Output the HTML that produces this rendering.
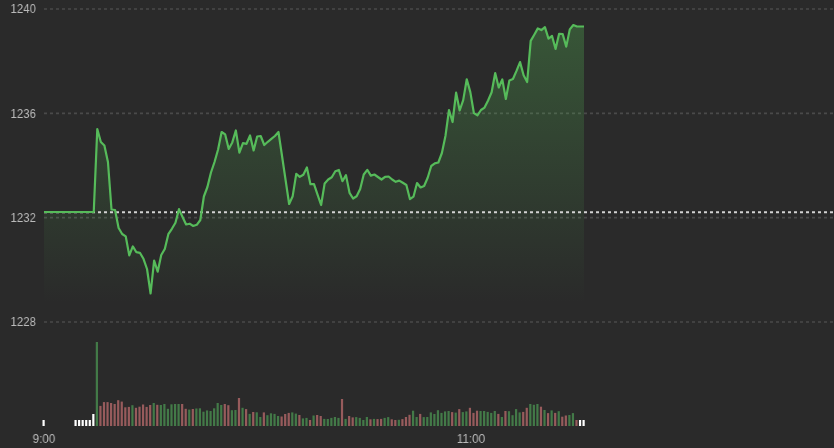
<!DOCTYPE html>
<html><head><meta charset="utf-8"><style>
html,body{margin:0;padding:0;}
body{width:834px;height:448px;background:#2a2a2a;position:relative;overflow:hidden;font-family:"Liberation Sans",sans-serif;}
svg{position:absolute;left:0;top:0;}
.lab{position:absolute;right:798px;font-size:13px;line-height:15px;color:#bababa;transform:scaleX(0.88);transform-origin:right center;white-space:nowrap;will-change:transform;-webkit-font-smoothing:antialiased;}
.tl{position:absolute;top:431px;font-size:13px;line-height:15px;color:#bababa;white-space:nowrap;transform:translateX(-50%) scaleX(0.9);will-change:transform;-webkit-font-smoothing:antialiased;}
</style></head><body>
<svg width="834" height="448" viewBox="0 0 834 448">
<defs><linearGradient id="fg" x1="0" y1="25" x2="0" y2="303" gradientUnits="userSpaceOnUse">
<stop offset="0" stop-color="rgba(90,200,90,0.28)"/><stop offset="1" stop-color="rgba(90,200,90,0.0)"/></linearGradient></defs>
<line x1="44" y1="8.97" x2="834" y2="8.97" stroke="#4a4a4a" stroke-width="1.6" stroke-dasharray="3 3"/><line x1="44" y1="113.4" x2="834" y2="113.4" stroke="#4a4a4a" stroke-width="1.6" stroke-dasharray="3 3"/><line x1="44" y1="217.6" x2="834" y2="217.6" stroke="#4a4a4a" stroke-width="1.6" stroke-dasharray="3 3"/><line x1="44" y1="322" x2="834" y2="322" stroke="#4a4a4a" stroke-width="1.6" stroke-dasharray="3 3"/>
<path d="M44 212 L47.55 212 L51.11 212 L54.66 212 L58.21 212 L61.76 212 L65.32 212 L68.87 212 L72.42 212 L75.97 212 L79.53 212 L83.08 212 L86.63 212 L90.18 212 L93.74 212 L97.29 129 L100.84 142 L104.39 145.5 L107.95 162 L111.5 209.5 L115.05 210 L118.61 228 L122.16 234 L125.71 236.3 L129.26 255.4 L132.82 246.4 L136.37 252.2 L139.92 252.8 L143.47 258.8 L147.03 269 L150.58 293.5 L154.13 260.6 L157.68 271.7 L161.24 255 L164.79 249 L168.34 234.2 L171.89 228.8 L175.45 222.8 L179 209.1 L182.55 217 L186.11 224.5 L189.66 223.7 L193.21 226 L196.76 224.8 L200.32 220 L203.87 196.5 L207.42 187 L210.97 172.5 L214.53 162 L218.08 149.5 L221.63 132 L225.18 134.4 L228.74 149 L232.29 142.4 L235.84 130.5 L239.39 152.6 L242.95 143.2 L246.5 143.8 L250.05 135.5 L253.61 150.5 L257.16 136.5 L260.71 136 L264.26 145 L267.82 141.8 L271.37 138.9 L274.92 136 L278.47 132 L282.03 156 L285.58 180 L289.13 204 L292.68 196.2 L296.24 173.8 L299.79 176.8 L303.34 174.8 L306.89 167.4 L310.45 184.2 L314 184.2 L317.55 194.6 L321.11 205 L324.66 183.4 L328.21 179.5 L331.76 177.3 L335.32 171.2 L338.87 170 L342.42 181.2 L345.97 175.1 L349.53 192.8 L353.08 198.5 L356.63 196.3 L360.18 189 L363.74 174.5 L367.29 169.8 L370.84 175.6 L374.39 174.5 L377.95 177 L381.5 179.5 L385.05 176.8 L388.61 176.5 L392.16 179.5 L395.71 181.8 L399.26 180.6 L402.82 182.8 L406.37 185 L409.92 199.1 L413.47 196.7 L417.03 183 L420.58 187.5 L424.13 186 L427.68 177.8 L431.24 166 L434.79 163.4 L438.34 162.5 L441.89 153 L445.45 136 L449 110 L452.55 122 L456.11 92.6 L459.66 110.5 L463.21 100.1 L466.76 79.3 L470.32 92.1 L473.87 113 L477.42 115.3 L480.97 110 L484.53 107.6 L488.08 100.5 L491.63 92.3 L495.18 73.1 L498.74 87.5 L502.29 79.4 L505.84 99 L509.39 80.4 L512.95 79 L516.5 70.9 L520.05 62.1 L523.61 75.3 L527.16 82 L530.71 40.9 L534.26 34.8 L537.82 28.4 L541.37 30.1 L544.92 27.2 L548.47 38.6 L552.03 36 L555.58 49 L559.13 33.75 L562.68 34.1 L566.24 46.6 L569.79 29.4 L573.34 25 L576.89 26.5 L580.45 26.5 L584 26.5 L584 303 L44 303 Z" fill="url(#fg)"/>
<line x1="44" y1="212.3" x2="834" y2="212.3" stroke="#d2d2d2" stroke-width="2" stroke-dasharray="3 3"/>
<path d="M44 212 L47.55 212 L51.11 212 L54.66 212 L58.21 212 L61.76 212 L65.32 212 L68.87 212 L72.42 212 L75.97 212 L79.53 212 L83.08 212 L86.63 212 L90.18 212 L93.74 212 L97.29 129 L100.84 142 L104.39 145.5 L107.95 162 L111.5 209.5 L115.05 210 L118.61 228 L122.16 234 L125.71 236.3 L129.26 255.4 L132.82 246.4 L136.37 252.2 L139.92 252.8 L143.47 258.8 L147.03 269 L150.58 293.5 L154.13 260.6 L157.68 271.7 L161.24 255 L164.79 249 L168.34 234.2 L171.89 228.8 L175.45 222.8 L179 209.1 L182.55 217 L186.11 224.5 L189.66 223.7 L193.21 226 L196.76 224.8 L200.32 220 L203.87 196.5 L207.42 187 L210.97 172.5 L214.53 162 L218.08 149.5 L221.63 132 L225.18 134.4 L228.74 149 L232.29 142.4 L235.84 130.5 L239.39 152.6 L242.95 143.2 L246.5 143.8 L250.05 135.5 L253.61 150.5 L257.16 136.5 L260.71 136 L264.26 145 L267.82 141.8 L271.37 138.9 L274.92 136 L278.47 132 L282.03 156 L285.58 180 L289.13 204 L292.68 196.2 L296.24 173.8 L299.79 176.8 L303.34 174.8 L306.89 167.4 L310.45 184.2 L314 184.2 L317.55 194.6 L321.11 205 L324.66 183.4 L328.21 179.5 L331.76 177.3 L335.32 171.2 L338.87 170 L342.42 181.2 L345.97 175.1 L349.53 192.8 L353.08 198.5 L356.63 196.3 L360.18 189 L363.74 174.5 L367.29 169.8 L370.84 175.6 L374.39 174.5 L377.95 177 L381.5 179.5 L385.05 176.8 L388.61 176.5 L392.16 179.5 L395.71 181.8 L399.26 180.6 L402.82 182.8 L406.37 185 L409.92 199.1 L413.47 196.7 L417.03 183 L420.58 187.5 L424.13 186 L427.68 177.8 L431.24 166 L434.79 163.4 L438.34 162.5 L441.89 153 L445.45 136 L449 110 L452.55 122 L456.11 92.6 L459.66 110.5 L463.21 100.1 L466.76 79.3 L470.32 92.1 L473.87 113 L477.42 115.3 L480.97 110 L484.53 107.6 L488.08 100.5 L491.63 92.3 L495.18 73.1 L498.74 87.5 L502.29 79.4 L505.84 99 L509.39 80.4 L512.95 79 L516.5 70.9 L520.05 62.1 L523.61 75.3 L527.16 82 L530.71 40.9 L534.26 34.8 L537.82 28.4 L541.37 30.1 L544.92 27.2 L548.47 38.6 L552.03 36 L555.58 49 L559.13 33.75 L562.68 34.1 L566.24 46.6 L569.79 29.4 L573.34 25 L576.89 26.5 L580.45 26.5 L584 26.5" fill="none" stroke="#56bb5a" stroke-width="2.2" stroke-linejoin="round"/>
<rect x="42.5" y="420" width="2.2" height="6" fill="#ffffff"/><rect x="74.47" y="420" width="2.2" height="6" fill="#ffffff"/><rect x="78.03" y="420" width="2.2" height="6" fill="#ffffff"/><rect x="81.58" y="420" width="2.2" height="6" fill="#ffffff"/><rect x="85.13" y="420" width="2.2" height="6" fill="#ffffff"/><rect x="88.68" y="420" width="2.2" height="6" fill="#ffffff"/><rect x="92.24" y="414" width="2.2" height="12" fill="#ffffff"/><rect x="95.79" y="342" width="2.2" height="84" fill="#437a48"/><rect x="99.34" y="405.9" width="2.2" height="20.1" fill="#975b5c"/><rect x="102.89" y="402.1" width="2.2" height="23.9" fill="#975b5c"/><rect x="106.45" y="402.1" width="2.2" height="23.9" fill="#975b5c"/><rect x="110" y="403" width="2.2" height="23" fill="#975b5c"/><rect x="113.55" y="404" width="2.2" height="22" fill="#975b5c"/><rect x="117.11" y="400.2" width="2.2" height="25.8" fill="#975b5c"/><rect x="120.66" y="401.6" width="2.2" height="24.4" fill="#975b5c"/><rect x="124.21" y="407.3" width="2.2" height="18.7" fill="#975b5c"/><rect x="127.76" y="406.9" width="2.2" height="19.1" fill="#975b5c"/><rect x="131.32" y="405.2" width="2.2" height="20.8" fill="#437a48"/><rect x="134.87" y="407.8" width="2.2" height="18.2" fill="#975b5c"/><rect x="138.42" y="406.7" width="2.2" height="19.3" fill="#975b5c"/><rect x="141.97" y="404.5" width="2.2" height="21.5" fill="#975b5c"/><rect x="145.53" y="406.9" width="2.2" height="19.1" fill="#975b5c"/><rect x="149.08" y="405" width="2.2" height="21" fill="#975b5c"/><rect x="152.63" y="403" width="2.2" height="23" fill="#437a48"/><rect x="156.18" y="404.8" width="2.2" height="21.2" fill="#975b5c"/><rect x="159.74" y="405" width="2.2" height="21" fill="#437a48"/><rect x="163.29" y="404" width="2.2" height="22" fill="#437a48"/><rect x="166.84" y="408.8" width="2.2" height="17.2" fill="#437a48"/><rect x="170.39" y="404.3" width="2.2" height="21.7" fill="#437a48"/><rect x="173.95" y="404" width="2.2" height="22" fill="#437a48"/><rect x="177.5" y="404" width="2.2" height="22" fill="#437a48"/><rect x="181.05" y="404" width="2.2" height="22" fill="#975b5c"/><rect x="184.61" y="408.8" width="2.2" height="17.2" fill="#975b5c"/><rect x="188.16" y="409.6" width="2.2" height="16.4" fill="#437a48"/><rect x="191.71" y="409" width="2.2" height="17" fill="#975b5c"/><rect x="195.26" y="408.5" width="2.2" height="17.5" fill="#437a48"/><rect x="198.82" y="408.3" width="2.2" height="17.7" fill="#437a48"/><rect x="202.37" y="411.7" width="2.2" height="14.3" fill="#437a48"/><rect x="205.92" y="410.4" width="2.2" height="15.6" fill="#437a48"/><rect x="209.47" y="411" width="2.2" height="15" fill="#437a48"/><rect x="213.03" y="408.3" width="2.2" height="17.7" fill="#437a48"/><rect x="216.58" y="403" width="2.2" height="23" fill="#437a48"/><rect x="220.13" y="405" width="2.2" height="21" fill="#437a48"/><rect x="223.68" y="404" width="2.2" height="22" fill="#975b5c"/><rect x="227.24" y="405.2" width="2.2" height="20.8" fill="#975b5c"/><rect x="230.79" y="410.2" width="2.2" height="15.8" fill="#437a48"/><rect x="234.34" y="410" width="2.2" height="16" fill="#437a48"/><rect x="237.89" y="398" width="2.2" height="28" fill="#975b5c"/><rect x="241.45" y="407.8" width="2.2" height="18.2" fill="#437a48"/><rect x="245" y="409.1" width="2.2" height="16.9" fill="#975b5c"/><rect x="248.55" y="413.9" width="2.2" height="12.1" fill="#437a48"/><rect x="252.11" y="412" width="2.2" height="14" fill="#975b5c"/><rect x="255.66" y="412.3" width="2.2" height="13.7" fill="#437a48"/><rect x="259.21" y="417" width="2.2" height="9" fill="#437a48"/><rect x="262.76" y="412.4" width="2.2" height="13.6" fill="#975b5c"/><rect x="266.32" y="415.2" width="2.2" height="10.8" fill="#437a48"/><rect x="269.87" y="413.3" width="2.2" height="12.7" fill="#437a48"/><rect x="273.42" y="413.9" width="2.2" height="12.1" fill="#437a48"/><rect x="276.97" y="416" width="2.2" height="10" fill="#437a48"/><rect x="280.53" y="416.5" width="2.2" height="9.5" fill="#975b5c"/><rect x="284.08" y="414" width="2.2" height="12" fill="#975b5c"/><rect x="287.63" y="412.9" width="2.2" height="13.1" fill="#975b5c"/><rect x="291.18" y="412.4" width="2.2" height="13.6" fill="#437a48"/><rect x="294.74" y="413.6" width="2.2" height="12.4" fill="#437a48"/><rect x="298.29" y="415" width="2.2" height="11" fill="#975b5c"/><rect x="301.84" y="418.4" width="2.2" height="7.6" fill="#437a48"/><rect x="305.39" y="417.9" width="2.2" height="8.1" fill="#437a48"/><rect x="308.95" y="420" width="2.2" height="6" fill="#975b5c"/><rect x="312.5" y="415.5" width="2.2" height="10.5" fill="#437a48"/><rect x="316.05" y="415" width="2.2" height="11" fill="#975b5c"/><rect x="319.61" y="416" width="2.2" height="10" fill="#975b5c"/><rect x="323.16" y="418.9" width="2.2" height="7.1" fill="#437a48"/><rect x="326.71" y="419" width="2.2" height="7" fill="#437a48"/><rect x="330.26" y="417.9" width="2.2" height="8.1" fill="#437a48"/><rect x="333.82" y="417" width="2.2" height="9" fill="#437a48"/><rect x="337.37" y="417.9" width="2.2" height="8.1" fill="#437a48"/><rect x="340.92" y="399" width="2.2" height="27" fill="#975b5c"/><rect x="344.47" y="418.9" width="2.2" height="7.1" fill="#437a48"/><rect x="348.03" y="416" width="2.2" height="10" fill="#975b5c"/><rect x="351.58" y="417.4" width="2.2" height="8.6" fill="#975b5c"/><rect x="355.13" y="417.1" width="2.2" height="8.9" fill="#437a48"/><rect x="358.68" y="417.9" width="2.2" height="8.1" fill="#437a48"/><rect x="362.24" y="420" width="2.2" height="6" fill="#437a48"/><rect x="365.79" y="417" width="2.2" height="9" fill="#437a48"/><rect x="369.34" y="419.3" width="2.2" height="6.7" fill="#975b5c"/><rect x="372.89" y="418.9" width="2.2" height="7.1" fill="#437a48"/><rect x="376.45" y="419.1" width="2.2" height="6.9" fill="#975b5c"/><rect x="380" y="418.9" width="2.2" height="7.1" fill="#975b5c"/><rect x="383.55" y="417.9" width="2.2" height="8.1" fill="#437a48"/><rect x="387.11" y="417.1" width="2.2" height="8.9" fill="#437a48"/><rect x="390.66" y="419.3" width="2.2" height="6.7" fill="#975b5c"/><rect x="394.21" y="420" width="2.2" height="6" fill="#975b5c"/><rect x="397.76" y="419.8" width="2.2" height="6.2" fill="#437a48"/><rect x="401.32" y="419.1" width="2.2" height="6.9" fill="#975b5c"/><rect x="404.87" y="417" width="2.2" height="9" fill="#975b5c"/><rect x="408.42" y="414.8" width="2.2" height="11.2" fill="#975b5c"/><rect x="411.97" y="410.7" width="2.2" height="15.3" fill="#437a48"/><rect x="415.53" y="417" width="2.2" height="9" fill="#437a48"/><rect x="419.08" y="413.9" width="2.2" height="12.1" fill="#975b5c"/><rect x="422.63" y="417.1" width="2.2" height="8.9" fill="#437a48"/><rect x="426.18" y="417" width="2.2" height="9" fill="#437a48"/><rect x="429.74" y="412.4" width="2.2" height="13.6" fill="#437a48"/><rect x="433.29" y="414" width="2.2" height="12" fill="#437a48"/><rect x="436.84" y="410.2" width="2.2" height="15.8" fill="#437a48"/><rect x="440.39" y="412.9" width="2.2" height="13.1" fill="#437a48"/><rect x="443.95" y="411.4" width="2.2" height="14.6" fill="#437a48"/><rect x="447.5" y="411" width="2.2" height="15" fill="#437a48"/><rect x="451.05" y="412.1" width="2.2" height="13.9" fill="#975b5c"/><rect x="454.61" y="412.6" width="2.2" height="13.4" fill="#437a48"/><rect x="458.16" y="409.1" width="2.2" height="16.9" fill="#975b5c"/><rect x="461.71" y="412.1" width="2.2" height="13.9" fill="#437a48"/><rect x="465.26" y="411.4" width="2.2" height="14.6" fill="#437a48"/><rect x="468.82" y="407.8" width="2.2" height="18.2" fill="#975b5c"/><rect x="472.37" y="412.9" width="2.2" height="13.1" fill="#975b5c"/><rect x="475.92" y="410.7" width="2.2" height="15.3" fill="#975b5c"/><rect x="479.47" y="411" width="2.2" height="15" fill="#437a48"/><rect x="483.03" y="411" width="2.2" height="15" fill="#437a48"/><rect x="486.58" y="411.9" width="2.2" height="14.1" fill="#437a48"/><rect x="490.13" y="412.9" width="2.2" height="13.1" fill="#437a48"/><rect x="493.68" y="411" width="2.2" height="15" fill="#437a48"/><rect x="497.24" y="413.9" width="2.2" height="12.1" fill="#975b5c"/><rect x="500.79" y="417" width="2.2" height="9" fill="#437a48"/><rect x="504.34" y="411" width="2.2" height="15" fill="#975b5c"/><rect x="507.89" y="411.2" width="2.2" height="14.8" fill="#437a48"/><rect x="511.45" y="415.2" width="2.2" height="10.8" fill="#437a48"/><rect x="515" y="409.1" width="2.2" height="16.9" fill="#437a48"/><rect x="518.55" y="412.4" width="2.2" height="13.6" fill="#437a48"/><rect x="522.11" y="411.9" width="2.2" height="14.1" fill="#975b5c"/><rect x="525.66" y="407.8" width="2.2" height="18.2" fill="#975b5c"/><rect x="529.21" y="404" width="2.2" height="22" fill="#437a48"/><rect x="532.76" y="404.8" width="2.2" height="21.2" fill="#437a48"/><rect x="536.32" y="404" width="2.2" height="22" fill="#437a48"/><rect x="539.87" y="406.7" width="2.2" height="19.3" fill="#975b5c"/><rect x="543.42" y="410" width="2.2" height="16" fill="#437a48"/><rect x="546.97" y="413.1" width="2.2" height="12.9" fill="#975b5c"/><rect x="550.53" y="410.4" width="2.2" height="15.6" fill="#437a48"/><rect x="554.08" y="412.9" width="2.2" height="13.1" fill="#975b5c"/><rect x="557.63" y="411.2" width="2.2" height="14.8" fill="#437a48"/><rect x="561.18" y="416.7" width="2.2" height="9.3" fill="#975b5c"/><rect x="564.74" y="415.5" width="2.2" height="10.5" fill="#975b5c"/><rect x="568.29" y="415" width="2.2" height="11" fill="#437a48"/><rect x="571.84" y="413.1" width="2.2" height="12.9" fill="#437a48"/><rect x="575.39" y="420" width="2.2" height="6" fill="#975b5c"/><rect x="578.95" y="420" width="2.2" height="6" fill="#ffffff"/><rect x="582.5" y="420" width="2.2" height="6" fill="#ffffff"/>
</svg>
<div class="lab" style="top:1px">1240</div><div class="lab" style="top:106px">1236</div><div class="lab" style="top:210px">1232</div><div class="lab" style="top:314px">1228</div>
<div class="tl" style="left:44px">9:00</div>
<div class="tl" style="left:470.5px">11:00</div>
</body></html>
